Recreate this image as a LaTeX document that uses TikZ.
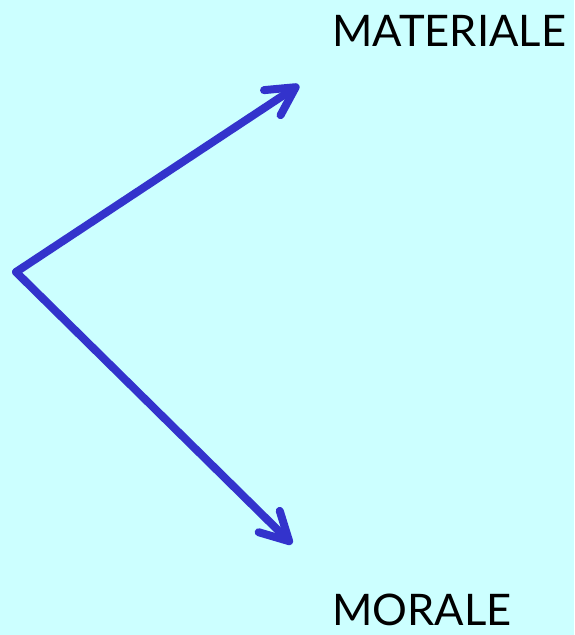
\documentclass[tikz,border=0pt]{standalone}
\usepackage{fontspec}
\setmainfont{Lato}
\usetikzlibrary{arrows.meta, positioning}
\definecolor{sky}  {HTML}{CCFFFF}
\definecolor{arrow}{HTML}{3333CC}
\definecolor{ink}  {HTML}{000000}
\tikzset{
  branch/.style={arrow, line width=8pt, line cap=round, line join=round,
    -{Straight Barb[round, length=28pt, width=30pt]}},
  word/.style={anchor=base west, inner sep=0pt, text=ink, font=\fontsize{43.5}{44}\selectfont}
}

\begin{document}
\begin{tikzpicture}[x=1pt, y=-1pt]
      \fill[sky] (0,0) rectangle (574,635);
      \useasboundingbox (0,0) rectangle (574,635);
      \coordinate (root) at (16,272);
      \coordinate (up)   at (299,85);
      \coordinate (down) at (292,544);
      \draw[branch] (root) -- (up);
      \draw[branch] (root) -- (down);
      \node[word] (materiale) at (332,46) {MATERIALE};
      \node[word] (morale)    at (332,625) {MORALE};
    \end{tikzpicture}
\end{document}
